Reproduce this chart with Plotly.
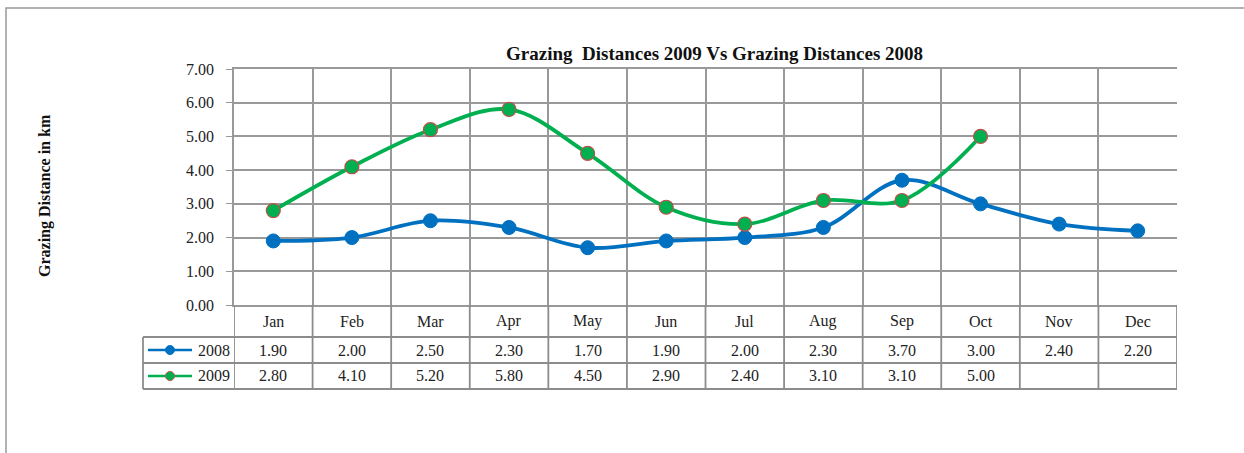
import plotly.graph_objects as go

# data
months = ["Jan", "Feb", "Mar", "Apr", "May", "Jun", "Jul", "Aug", "Sep", "Oct", "Nov", "Dec"]
dist_2008 = [1.90, 2.00, 2.50, 2.30, 1.70, 1.90, 2.00, 2.30, 3.70, 3.00, 2.40, 2.20]
dist_2009 = [2.80, 4.10, 5.20, 5.80, 4.50, 2.90, 2.40, 3.10, 3.10, 5.00, None, None]
series_names = ["2008", "2009"]

BLUE = "#0070C0"
GREEN = "#00B050"
RED = "#C0504D"
GRID = "#999999"
FONT = "Liberation Serif"

W, H = 1244, 453
ML, MR, MT, MB = 234, 67, 69, 148
pw, ph = W - ML - MR, H - MT - MB


def px_x(p):
    # pixel x -> paper x
    return (p - ML) / pw


def px_y(p):
    # pixel y -> paper y
    return (H - MB - p) / ph


fig = go.Figure()
fig.add_trace(go.Scatter(
    x=months, y=dist_2008, name=series_names[0], mode="lines+markers",
    line=dict(color=BLUE, width=3.8, shape="spline", smoothing=1.0),
    marker=dict(color=BLUE, size=14, line=dict(color=BLUE, width=1)),
))
fig.add_trace(go.Scatter(
    x=months, y=dist_2009, name=series_names[1], mode="lines+markers",
    line=dict(color=GREEN, width=3.8, shape="spline", smoothing=1.0),
    marker=dict(color=GREEN, size=14, line=dict(color=RED, width=1.2)),
))

shapes = []
annos = []
line_style = dict(color="#8c8c8c", width=1.8)

# data table borders
row_lines = [337, 363, 389]
for py in row_lines:
    shapes.append(dict(type="line", xref="paper", yref="paper",
                       x0=px_x(143), x1=1, y0=px_y(py), y1=px_y(py), line=line_style))
for i in range(len(months) + 1):
    shapes.append(dict(type="line", xref="x", yref="paper",
                       x0=i - 0.5, x1=i - 0.5, y0=0, y1=px_y(389), line=line_style))
shapes.append(dict(type="line", xref="paper", yref="paper",
                   x0=px_x(143), x1=px_x(143), y0=px_y(337), y1=px_y(389), line=line_style))

# header + values
cell_font = dict(family=FONT, size=16, color="#222222")
for m in months:
    annos.append(dict(x=m, xref="x", y=px_y(321), yref="paper", text=m,
                      xanchor="center", yanchor="middle", showarrow=False, font=cell_font))
for vals, yc in [(dist_2008, 350), (dist_2009, 376)]:
    for m, v in zip(months, vals):
        if v is None:
            continue
        annos.append(dict(x=m, xref="x", y=px_y(yc), yref="paper", text=f"{v:.2f}",
                          xanchor="center", yanchor="middle", showarrow=False, font=cell_font))

# legend keys in the table
for name, col, edge, yc in [(series_names[0], BLUE, BLUE, 350), (series_names[1], GREEN, RED, 376)]:
    shapes.append(dict(type="line", xref="paper", yref="paper",
                       x0=px_x(148), x1=px_x(192), y0=px_y(yc), y1=px_y(yc),
                       line=dict(color=col, width=2.5)))
    shapes.append(dict(type="circle", xref="paper", yref="paper",
                       xsizemode="pixel", ysizemode="pixel",
                       xanchor=px_x(170), yanchor=px_y(yc),
                       x0=-4.5, x1=4.5, y0=-4.5, y1=4.5,
                       fillcolor=col, line=dict(color=edge, width=1)))
    annos.append(dict(x=px_x(232), xref="paper", y=px_y(yc), yref="paper", text=name,
                      xanchor="right", yanchor="middle", showarrow=False, font=cell_font))

# outer frame
shapes.append(dict(type="rect", xref="paper", yref="paper",
                   x0=px_x(6), x1=px_x(1260), y0=px_y(8), y1=px_y(470),
                   line=dict(color=GRID, width=1.5), layer="below"))

# title and y-axis title
annos.append(dict(x=px_x(714), xref="paper", y=px_y(54), yref="paper",
                  text="<b>Grazing  Distances 2009 Vs Grazing Distances 2008</b>",
                  xanchor="center", yanchor="middle", showarrow=False,
                  font=dict(family=FONT, size=19, color="#111111")))
annos.append(dict(x=px_x(45), xref="paper", y=px_y(196), yref="paper",
                  text="<b>Grazing Distance in km</b>", textangle=-90,
                  xanchor="center", yanchor="middle", showarrow=False,
                  font=dict(family=FONT, size=16, color="#111111")))

fig.update_layout(
    width=W, height=H,
    margin=dict(l=ML, r=MR, t=MT, b=MB),
    paper_bgcolor="white", plot_bgcolor="white",
    showlegend=False,
    shapes=shapes, annotations=annos,
    xaxis=dict(type="category", categoryorder="array", categoryarray=months,
               range=[-0.5, len(months) - 0.5], tickson="boundaries",
               showticklabels=False, ticks="", showgrid=True, gridcolor=GRID,
               gridwidth=1.5, showline=True, linecolor=GRID, linewidth=1.5,
               mirror=True, zeroline=False),
    yaxis=dict(range=[0, 7], dtick=1, tickformat=".2f", showgrid=True,
               gridcolor=GRID, gridwidth=1.5, ticks="outside", ticklen=6,
               tickcolor=GRID, ticklabelstandoff=9, showline=True, linecolor=GRID,
               linewidth=1.5, zeroline=False,
               tickfont=dict(family=FONT, size=16, color="#222222")),
)

# drop the default body margin so the figure sits at the page origin
fig.write_html("out.html", config={"displayModeBar": False},
               post_script="document.body.style.margin='0';")
